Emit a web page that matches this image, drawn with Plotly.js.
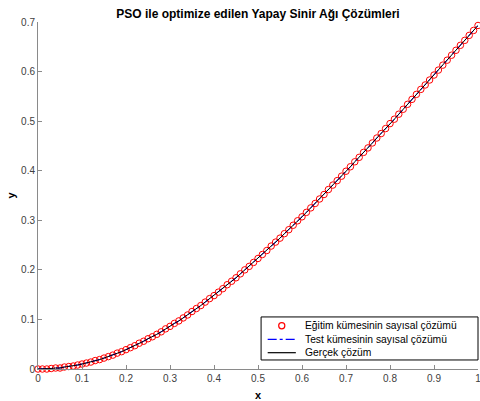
<!DOCTYPE html>
<html>
<head>
<meta charset="utf-8">
<script src="https://cdn.plot.ly/plotly-3.0.1.min.js"></script>
<style>html,body{margin:0;padding:0;background:#fff;}#chart{width:480px;height:401px;}</style>
</head>
<body>
<div id="chart"></div>
<script>
const xValues = [0,0.01,0.02,0.03,0.04,0.05,0.06,0.07,0.08,0.09,
0.10,0.11,0.12,0.13,0.14,0.15,0.16,0.17,0.18,0.19,
0.20,0.21,0.22,0.23,0.24,0.25,0.26,0.27,0.28,0.29,
0.30,0.31,0.32,0.33,0.34,0.35,0.36,0.37,0.38,0.39,
0.40,0.41,0.42,0.43,0.44,0.45,0.46,0.47,0.48,0.49,
0.50,0.51,0.52,0.53,0.54,0.55,0.56,0.57,0.58,0.59,
0.60,0.61,0.62,0.63,0.64,0.65,0.66,0.67,0.68,0.69,
0.70,0.71,0.72,0.73,0.74,0.75,0.76,0.77,0.78,0.79,
0.80,0.81,0.82,0.83,0.84,0.85,0.86,0.87,0.88,0.89,
0.90,0.91,0.92,0.93,0.94,0.95,0.96,0.97,0.98,0.99,1.00];
const trainValues = [0.000,0.000,0.000,0.001,0.002,0.002,0.004,0.005,0.006,0.008,
0.010,0.012,0.014,0.017,0.019,0.022,0.025,0.028,0.032,0.035,
0.039,0.043,0.047,0.052,0.056,0.061,0.065,0.070,0.075,0.081,
0.086,0.092,0.097,0.103,0.109,0.116,0.122,0.128,0.135,0.142,
0.148,0.155,0.162,0.170,0.177,0.184,0.192,0.200,0.207,0.215,
0.223,0.231,0.239,0.248,0.256,0.264,0.273,0.281,0.290,0.299,
0.307,0.316,0.325,0.334,0.343,0.352,0.362,0.371,0.380,0.389,
0.399,0.408,0.418,0.427,0.437,0.446,0.456,0.466,0.475,0.485,
0.495,0.504,0.514,0.524,0.534,0.544,0.554,0.564,0.573,0.583,
0.593,0.603,0.613,0.623,0.633,0.643,0.653,0.663,0.673,0.683,0.693];
const testValues = trainValues.slice();
const exactValues = trainValues.slice();
const xTicks = [0,0.1,0.2,0.3,0.4,0.5,0.6,0.7,0.8,0.9,1];
const xTickLabels = ['0','0.1','0.2','0.3','0.4','0.5','0.6','0.7','0.8','0.9','1'];
const yTicks = [0,0.1,0.2,0.3,0.4,0.5,0.6,0.7];
const yTickLabels = ['0','0.1','0.2','0.3','0.4','0.5','0.6','0.7'];
const seriesNames = ['Eğitim kümesinin sayısal çözümü','Test kümesinin sayısal çözümü','Gerçek çözüm'];

const FONT = 'Liberation Sans, Arial, Helvetica, sans-serif';
const RED = '#ff0000', BLUE = '#0000ff', BLACK = '#000000';
const traces = [
  {x: xValues, y: trainValues, name: seriesNames[0], type: 'scatter', mode: 'markers',
   marker: {symbol: 'circle-open', size: 6.5, color: RED, line: {width: 1, color: RED}}, cliponaxis: false},
  {x: xValues, y: testValues, name: seriesNames[1], type: 'scatter', mode: 'lines',
   line: {color: BLUE, width: 1, dash: 'dashdot'}, cliponaxis: false},
  {x: xValues, y: exactValues, name: seriesNames[2], type: 'scatter', mode: 'lines',
   line: {color: BLACK, width: 1}, cliponaxis: false}
];

// Legend box (MATLAB-style, compact), drawn in paper coordinates
const lg = {x0: 0.507, x1: 1.0, y0: 0.026, y1: 0.150,
            rows: [0.1248, 0.0856, 0.0470], symX0: 0.522, symX1: 0.586, textX: 0.603};
const symMid = (lg.symX0 + lg.symX1) / 2;
const shapes = [
  {type: 'rect', xref: 'paper', yref: 'paper', x0: lg.x0, x1: lg.x1, y0: lg.y0, y1: lg.y1,
   line: {color: BLACK, width: 1}, fillcolor: '#ffffff', layer: 'above'},
  {type: 'circle', xref: 'paper', yref: 'paper', x0: symMid - 0.0070, x1: symMid + 0.0070,
   y0: lg.rows[0] - 0.0089, y1: lg.rows[0] + 0.0089, line: {color: RED, width: 1.2}, layer: 'above'},
  {type: 'line', xref: 'paper', yref: 'paper', x0: lg.symX0, x1: lg.symX1, y0: lg.rows[1], y1: lg.rows[1],
   line: {color: BLUE, width: 1.2, dash: 'dashdot'}, layer: 'above'},
  {type: 'line', xref: 'paper', yref: 'paper', x0: lg.symX0, x1: lg.symX1, y0: lg.rows[2], y1: lg.rows[2],
   line: {color: BLACK, width: 1.2}, layer: 'above'}
];
const annotations = seriesNames.map((name, i) => ({
  xref: 'paper', yref: 'paper', x: lg.textX, y: lg.rows[i], xanchor: 'left', yanchor: 'middle',
  text: name, showarrow: false, font: {family: FONT, size: 10.3, color: BLACK}
}));

const axisCommon = {
  showgrid: false, zeroline: false, showline: true, linecolor: '#8a8a8a', linewidth: 1,
  ticks: 'inside', ticklen: 4, tickcolor: '#8a8a8a', tickwidth: 1,
  tickfont: {family: FONT, size: 10, color: '#404040'}, mirror: false,
  automargin: false, ticklabeloverflow: 'allow'
};
const layout = {
  width: 480, height: 401,
  margin: {l: 38, r: 2, t: 22, b: 32, pad: 0},
  paper_bgcolor: '#ffffff', plot_bgcolor: '#ffffff',
  font: {family: FONT},
  title: {text: '<b>PSO ile optimize edilen Yapay Sinir Ağı Çözümleri</b>', font: {family: FONT, size: 12, color: '#000'},
          x: 0.5375, xanchor: 'center', y: 0.965, yanchor: 'middle'},
  xaxis: Object.assign({}, axisCommon, {range: [0, 1], tickvals: xTicks, ticktext: xTickLabels,
          title: {text: '<b>x</b>', font: {family: FONT, size: 11, color: '#000'}, standoff: 8}}),
  yaxis: Object.assign({}, axisCommon, {range: [0, 0.7], tickvals: yTicks, ticktext: yTickLabels,
          title: {text: '<b>y</b>', font: {family: FONT, size: 11, color: '#000'}, standoff: 3}}),
  showlegend: false,
  shapes: shapes,
  annotations: annotations
};
Plotly.newPlot('chart', traces, layout, {displayModeBar: false, staticPlot: true});
</script>
</body>
</html>
